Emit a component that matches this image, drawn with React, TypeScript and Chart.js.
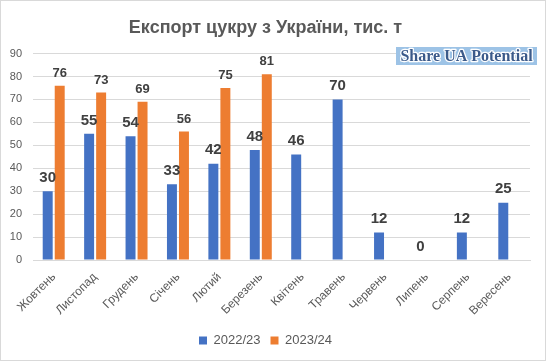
import React, { useEffect, useRef } from "react";
import { Chart, registerables } from "chart.js";

Chart.register(...registerables);

const months = ["Жовтень", "Листопад", "Грудень", "Січень", "Лютий", "Березень", "Квітень", "Травень", "Червень", "Липень", "Серпень", "Вересень"];
const season2223 = [30, 55, 54, 33, 42, 48, 46, 70, 12, 0, 12, 25];
const season2324 = [76, 73, 69, 56, 75, 81, null, null, null, null, null, null];
const seriesNames = ["2022/23", "2023/24"];
const yTicks = { min: 0, max: 90, step: 10 };
const titleText = "Експорт цукру з України, тис. т";
const watermarkText = "Share UA Potential";

const FONT = "'Liberation Sans', 'DejaVu Sans', sans-serif";

const labelPlugin = {
  id: "barLabels",
  afterDatasetsDraw(chart: any) {
    const ctx = chart.ctx;
    ctx.save();
    ctx.textAlign = "center";
    ctx.textBaseline = "bottom";
    ctx.fillStyle = "#404040";
    chart.data.datasets.forEach((ds: any, di: number) => {
      const meta = chart.getDatasetMeta(di);
      ctx.font = `bold ${di === 0 ? 15 : 13}px ${FONT}`;
      meta.data.forEach((el: any, i: number) => {
        const v = ds.data[i];
        if (v === null || v === undefined) return;
        ctx.fillText(String(v), el.x, el.y - 6);
      });
    });
    ctx.restore();
  },
};

const watermarkPlugin = {
  id: "watermark",
  afterDraw(chart: any) {
    const ctx = chart.ctx;
    ctx.save();
    ctx.fillStyle = "#9dc3e6";
    ctx.fillRect(395, 46, 141, 18);
    ctx.font = `bold 16px 'Liberation Serif', serif`;
    ctx.textAlign = "center";
    ctx.textBaseline = "middle";
    ctx.lineWidth = 2.5;
    ctx.strokeStyle = "#ffffff";
    ctx.lineJoin = "round";
    ctx.strokeText(watermarkText, 465.5, 55.5);
    ctx.fillStyle = "#3b5a8a";
    ctx.fillText(watermarkText, 465.5, 55.5);
    ctx.restore();
  },
};

export default function App() {
  const ref = useRef<HTMLCanvasElement>(null);
  useEffect(() => {
    document.body.style.margin = "0";
    const chart = new Chart(ref.current!, {
      type: "bar",
      data: {
        labels: months,
        datasets: [
          {
            label: seriesNames[0],
            data: season2223,
            backgroundColor: "#4472c4",
            categoryPercentage: 0.58,
            barPercentage: 0.83,
          },
          {
            label: seriesNames[1],
            data: season2324 as any,
            backgroundColor: "#ed7d31",
            categoryPercentage: 0.58,
            barPercentage: 0.83,
          },
        ],
      },
      options: {
        animation: false,
        responsive: false,
        layout: { padding: { top: 12, left: 0, right: 15, bottom: 3 } },
        plugins: {
          title: {
            display: true,
            text: titleText,
            color: "#595959",
            font: { family: FONT, size: 18, weight: "bold" },
            padding: { top: 4, bottom: 15 },
          },
          legend: {
            position: "bottom",
            labels: {
              boxWidth: 8,
              boxHeight: 8,
              color: "#595959",
              font: { family: FONT, size: 13 },
              padding: 10,
            },
          },
          tooltip: { enabled: false },
        },
        scales: {
          x: {
            grid: { display: false },
            border: { color: "#d9d9d9" },
            ticks: {
              color: "#595959",
              font: { family: FONT, size: 12 },
              maxRotation: 45,
              minRotation: 45,
              padding: 2,
            },
            afterFit(scale: any) {
              scale.height = 64;
            },
          },
          y: {
            min: yTicks.min,
            max: yTicks.max,
            grid: { color: "#d9d9d9", drawTicks: false },
            border: { display: false },
            ticks: {
              stepSize: yTicks.step,
              color: "#595959",
              font: { family: FONT, size: 11 },
              padding: 11,
            },
            afterFit(scale: any) {
              scale.width = 32;
            },
          },
        },
      },
      plugins: [labelPlugin, watermarkPlugin],
    });
    return () => chart.destroy();
  }, []);
  return (
    <div style={{ width: 546, height: 361, boxSizing: "border-box", border: "1px solid #d9d9d9", background: "#fff", position: "relative", overflow: "hidden" }}>
      <canvas ref={ref} width={544} height={359} style={{ display: "block" }} />
    </div>
  );
}
